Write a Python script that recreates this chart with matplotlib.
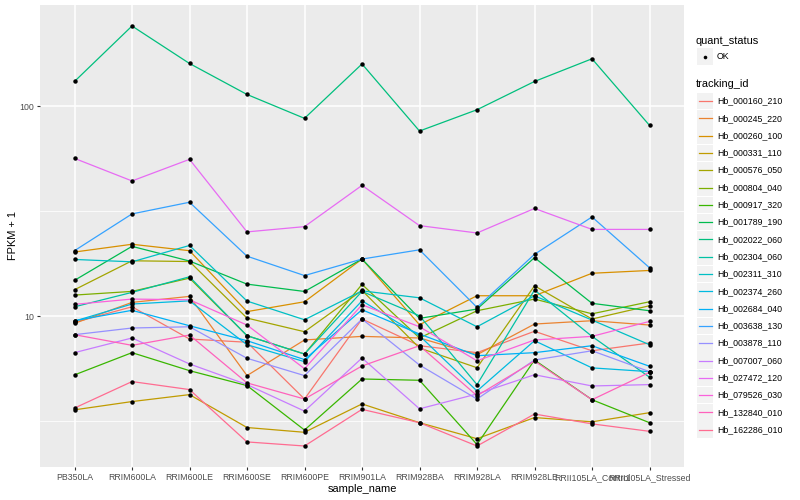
import numpy as np
import matplotlib
matplotlib.use("Agg")
import matplotlib.pyplot as plt
from matplotlib.lines import Line2D
from matplotlib.patches import Rectangle
from matplotlib.ticker import FixedLocator, NullFormatter

plt.rcParams['font.family'] = ['Liberation Sans', 'DejaVu Sans']

samples = ["PB350LA", "RRIM600LA", "RRIM600LE", "RRIM600SE", "RRIM600PE",
           "RRIM901LA", "RRIM928BA", "RRIM928LA", "RRIM928LE",
           "RRII105LA_Control", "RRII105LA_Stressed"]

tracking_ids = ["Hb_000160_210", "Hb_000245_220", "Hb_000260_100", "Hb_000331_110",
                "Hb_000576_050", "Hb_000804_040", "Hb_000917_320", "Hb_001789_190",
                "Hb_002022_060", "Hb_002304_060", "Hb_002311_310", "Hb_002374_260",
                "Hb_002684_040", "Hb_003638_130", "Hb_003878_110", "Hb_007007_060",
                "Hb_027472_120", "Hb_079526_030", "Hb_132840_010", "Hb_162286_010"]

# ggplot hue palette for 20 levels
colors = ["#F8766D", "#EA8331", "#D89000", "#C09B00", "#A3A500", "#7CAE00",
          "#39B600", "#00BB4E", "#00BF7D", "#00C1A3", "#00BFC4", "#00BAE0",
          "#00B0F6", "#35A2FF", "#9590FF", "#C77CFF", "#E76BF3", "#FA62DB",
          "#FF62BC", "#FF6C91"]

# FPKM + 1 per sample
hb_000160_210 = [9.33, 11.07, 7.77, 7.50, 4.02, 9.68, 7.22, 6.69, 8.46, 6.83, 7.44]
hb_000245_220 = [9.23, 11.62, 12.41, 5.20, 7.69, 8.00, 7.86, 6.54, 9.16, 9.50, 9.06]
hb_000260_100 = [20.2, 22.0, 20.5, 10.5, 11.7, 18.7, 9.09, 12.5, 12.5, 16.0, 16.5]
hb_000331_110 = [3.57, 3.91, 4.22, 2.94, 2.79, 3.81, 3.10, 2.60, 3.28, 3.13, 3.46]
hb_000576_050 = [13.35, 18.35, 18.2, 9.78, 8.42, 13.25, 7.04, 5.67, 13.94, 9.68, 11.20]
hb_000804_040 = [12.59, 13.11, 15.17, 8.06, 6.59, 14.16, 7.86, 10.60, 12.05, 10.25, 11.70]
hb_000917_320 = [5.24, 6.69, 5.49, 4.66, 2.86, 5.01, 4.94, 2.44, 6.17, 3.99, 3.10]
hb_001789_190 = [14.8, 21.5, 18.3, 14.2, 13.1, 18.7, 9.75, 10.8, 19.0, 11.5, 10.6]
hb_002022_060 = [131.5, 241.8, 160.2, 114.0, 87.7, 159.4, 76.3, 96.4, 131.5, 168.7, 81.2]
hb_002304_060 = [11.07, 12.97, 15.39, 8.06, 6.59, 13.11, 10.03, 4.71, 13.30, 8.00, 5.11]
hb_002311_310 = [18.62, 18.14, 21.71, 11.79, 9.60, 13.19, 12.22, 8.89, 12.49, 9.57, 7.30]
hb_002374_260 = [9.46, 11.41, 11.82, 7.30, 6.06, 11.82, 8.06, 4.39, 7.63, 5.66, 5.43]
hb_002684_040 = [9.50, 10.65, 8.99, 7.63, 6.20, 10.72, 8.21, 6.47, 6.69, 7.22, 5.76]
hb_003638_130 = [20.5, 30.7, 34.9, 19.3, 15.6, 18.7, 20.7, 11.0, 19.7, 29.7, 17.0]
hb_003878_110 = [8.15, 8.77, 8.89, 6.29, 5.20, 9.68, 5.84, 4.02, 6.17, 6.83, 5.43]
hb_007007_060 = [6.69, 7.86, 5.91, 4.71, 3.52, 6.31, 3.61, 4.25, 5.25, 4.64, 4.71]
hb_027472_120 = [56.5, 44.1, 55.9, 25.2, 26.7, 42.0, 27.0, 24.9, 32.6, 25.9, 25.9]
hb_079526_030 = [11.37, 12.05, 11.96, 9.06, 5.61, 11.32, 8.89, 6.12, 7.69, 8.00, 9.43]
hb_132840_010 = [8.15, 7.25, 8.12, 4.80, 4.02, 5.78, 7.22, 4.17, 6.10, 3.99, 5.39]
hb_162286_010 = [3.64, 4.87, 4.46, 2.51, 2.40, 3.59, 3.10, 2.40, 3.41, 3.06, 2.82]

series = [hb_000160_210, hb_000245_220, hb_000260_100, hb_000331_110, hb_000576_050,
          hb_000804_040, hb_000917_320, hb_001789_190, hb_002022_060, hb_002304_060,
          hb_002311_310, hb_002374_260, hb_002684_040, hb_003638_130, hb_003878_110,
          hb_007007_060, hb_027472_120, hb_079526_030, hb_132840_010, hb_162286_010]

W, H = 800, 500
fig = plt.figure(figsize=(W / 100, H / 100), dpi=100)
ax = fig.add_axes([40 / W, 1 - 467 / H, 644 / W, 462 / H])
ax.set_facecolor("#EBEBEB")
for s in ax.spines.values():
    s.set_visible(False)

x = np.arange(len(samples))
for vals, col in zip(series, colors):
    ax.plot(x, vals, color=col, lw=0.9, zorder=2)
for vals in series:
    ax.plot(x, vals, "o", color="black", ms=3.2, mew=0, zorder=3)

ax.set_yscale("log")
allv = np.log10(np.concatenate(series))
lo, hi = allv.min(), allv.max()
span = hi - lo
ax.set_ylim(10 ** (lo - 0.05 * span), 10 ** (hi + 0.05 * span))
ax.set_xlim(-0.6, len(samples) - 0.4)

ax.set_yticks([10, 100])
ax.set_yticklabels(["10", "100"])
ax.yaxis.set_minor_locator(FixedLocator([10 ** 0.5, 10 ** 1.5, 10 ** 2.5]))
ax.yaxis.set_minor_formatter(NullFormatter())
ax.set_xticks(x)
ax.set_xticklabels(samples)

ax.set_axisbelow(True)
ax.grid(which="major", color="white", lw=1.1)
ax.grid(which="minor", axis="y", color="white", lw=0.55)
ax.tick_params(which="major", length=2.5, width=0.8, color="#333333",
               labelsize=6.3, labelcolor="#4D4D4D", pad=2)
ax.tick_params(which="minor", length=0)

ax.set_xlabel("sample_name", fontsize=7.9, labelpad=1)
ax.set_ylabel("FPKM + 1", fontsize=7.9, labelpad=0.5)

# legends, drawn in pixel units
def fx(px):
    return px / W

def fy(py):
    return 1 - py / H

fig.text(fx(696), fy(40.7), "quant_status", fontsize=7.9, va="center", ha="left")
fig.patches.append(Rectangle((fx(697), fy(65)), 16 / W, 17 / H, transform=fig.transFigure,
                             facecolor="#F2F2F2", edgecolor="none"))
fig.lines.append(Line2D([fx(705)], [fy(56.5)], marker="o", ms=2.6, color="black",
                        mew=0, transform=fig.transFigure))
fig.text(fx(717), fy(56.5), "OK", fontsize=6.3, va="center", ha="left")

fig.text(fx(696), fy(84.3), "tracking_id", fontsize=7.9, va="center", ha="left")
step = 17.3
for i, (tid, col) in enumerate(zip(tracking_ids, colors)):
    yc = 101 + step * i
    fig.patches.append(Rectangle((fx(697), fy(yc + 8.3)), 16 / W, 16.6 / H,
                                 transform=fig.transFigure, facecolor="#F2F2F2",
                                 edgecolor="none"))
    fig.lines.append(Line2D([fx(698.5), fx(711.5)], [fy(yc), fy(yc)], color=col, lw=0.9,
                            transform=fig.transFigure))
    fig.text(fx(717), fy(yc), tid, fontsize=6.3, va="center", ha="left")

fig.savefig("out.png", dpi=100)
